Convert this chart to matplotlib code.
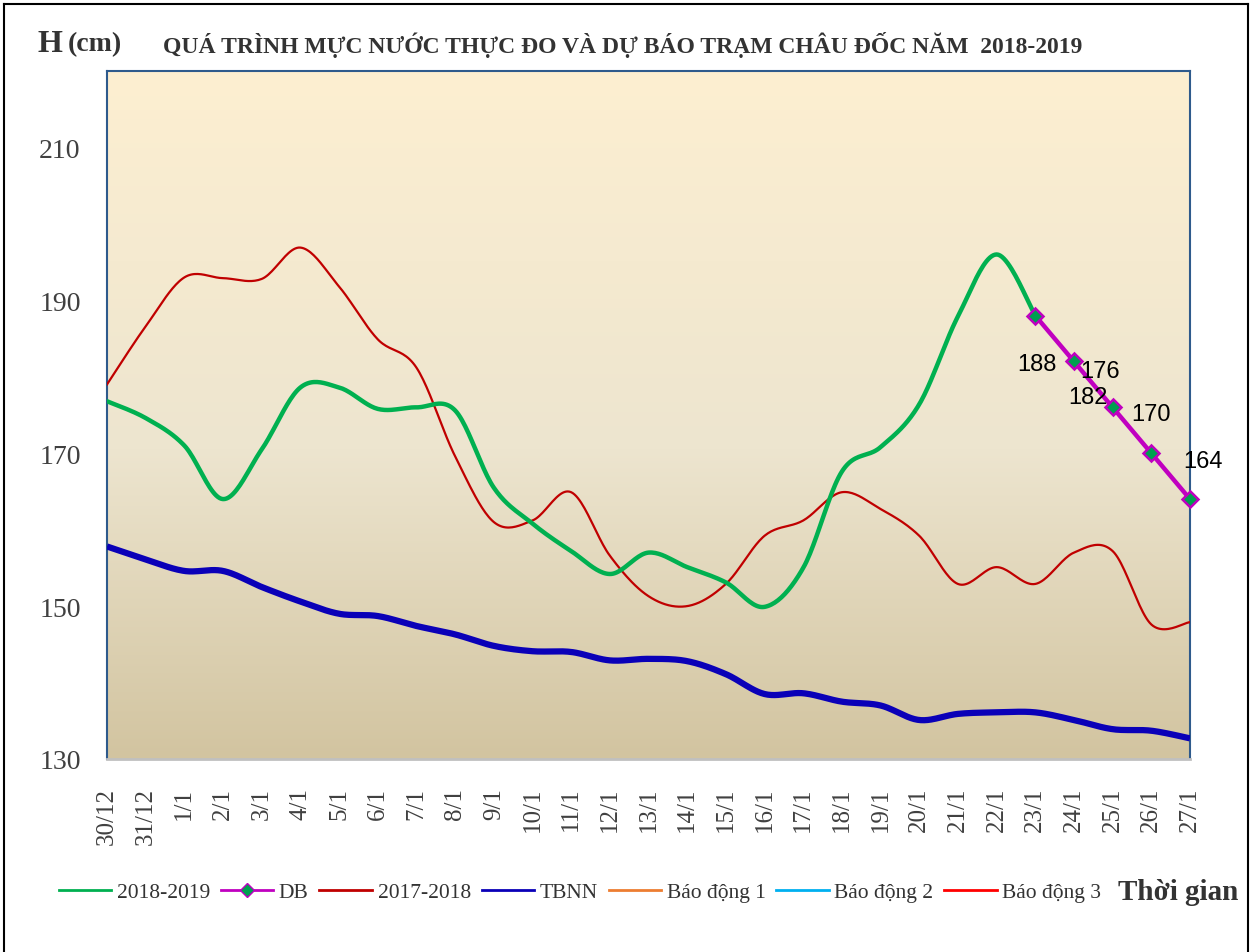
import numpy as np
import matplotlib
matplotlib.use("Agg")
import matplotlib.pyplot as plt
from matplotlib.lines import Line2D
from matplotlib.colors import LinearSegmentedColormap

plt.rcParams['font.family'] = ['Liberation Serif', 'DejaVu Serif']

# ---- data ----
dates = ['30/12', '31/12', '1/1', '2/1', '3/1', '4/1', '5/1', '6/1', '7/1', '8/1',
         '9/1', '10/1', '11/1', '12/1', '13/1', '14/1', '15/1', '16/1', '17/1', '18/1',
         '19/1', '20/1', '21/1', '22/1', '23/1', '24/1', '25/1', '26/1', '27/1']

# measured 2018-2019 (30/12 .. 23/1)
h_2019 = [176.8, 174.6, 171.0, 164.0, 170.5, 178.6, 178.6, 175.8, 176.0, 175.6,
          165.5, 160.8, 157.2, 154.2, 157.0, 155.1, 153.1, 149.9, 155.0, 167.6,
          170.8, 176.4, 187.9, 196.0, 188.0]

# forecast (23/1 .. 27/1)
db_dates = ['23/1', '24/1', '25/1', '26/1', '27/1']
h_db = [188, 182, 176, 170, 164]
db_label_offsets = [(2, -48), (14, -36), (-13, 36), (0, 39), (13, 38)]  # px

h_2018 = [179.0, 186.6, 193.0, 192.9, 192.8, 196.9, 191.8, 184.9, 181.2, 169.6,
          161.0, 161.2, 164.9, 156.6, 151.3, 150.0, 152.9, 159.2, 161.2, 164.9,
          162.7, 159.2, 152.9, 155.1, 152.9, 157.0, 157.2, 147.6, 147.9]

h_tbnn = [157.8, 156.1, 154.6, 154.6, 152.5, 150.6, 149.0, 148.7, 147.4, 146.3,
          144.8, 144.1, 144.0, 142.9, 143.1, 142.8, 141.1, 138.5, 138.6, 137.5,
          137.0, 135.1, 135.9, 136.1, 136.1, 135.1, 133.9, 133.7, 132.7]


def smooth(xs, ys, n=24):
    # excel-like smoothed line (catmull-rom as bezier)
    xs = np.asarray(xs, float)
    ys = np.asarray(ys, float)
    t = np.linspace(0, 1, n)[:, None]
    px, py = [], []
    for i in range(len(xs) - 1):
        i0 = max(i - 1, 0)
        i3 = min(i + 2, len(xs) - 1)
        pts = []
        for arr in (xs, ys):
            p0, p1, p2, p3 = arr[i0], arr[i], arr[i + 1], arr[i3]
            c1 = p1 + (p2 - p0) / 6
            c2 = p2 - (p3 - p1) / 6
            b = ((1 - t) ** 3 * p1 + 3 * (1 - t) ** 2 * t * c1
                 + 3 * (1 - t) * t ** 2 * c2 + t ** 3 * p2)
            pts.append(b[:, 0])
        px.append(pts[0])
        py.append(pts[1])
    return np.concatenate(px), np.concatenate(py)


W, H = 1256, 953
fig = plt.figure(figsize=(W / 100, H / 100), dpi=100)
ax = fig.add_axes([107 / W, 1 - 760 / H, (1190 - 107) / W, (760 - 72) / H])

x_all = np.arange(len(dates))
x_db = [dates.index(d) for d in db_dates]

# gradient background
cmap = LinearSegmentedColormap.from_list(
    'bg', [(0, '#D2C4A0'), (0.45, '#EDE5CF'), (1, '#FDEFD1')])
grad = np.linspace(0, 1, 256)[:, None]
ax.imshow(grad, extent=[0, len(dates) - 1, 130, 220], origin='lower',
          aspect='auto', cmap=cmap, zorder=0)

sx, sy = smooth(x_all, h_tbnn)
ax.plot(sx, sy, color='#0A00B8', lw=4.5, zorder=3, solid_capstyle='butt')
sx, sy = smooth(x_all, h_2018)
ax.plot(sx, sy, color='#C00000', lw=1.6, zorder=4)
sx, sy = smooth(x_all[:len(h_2019)], h_2019)
ax.plot(sx, sy, color='#00B050', lw=3.2, zorder=5)
ax.plot(x_db, h_db, color='#C000C0', lw=3.2, marker='D', ms=8,
        mfc='#00A050', mec='#C000C0', mew=1.8, zorder=6, clip_on=False)

for xd, v, (dx, dy) in zip(x_db, h_db, db_label_offsets):
    ax.annotate(str(v), (xd, v), xytext=(dx * 0.72, dy * 0.72),
                textcoords='offset points', ha='center', va='center',
                fontsize=17, family='Liberation Sans', color='black', zorder=7)

ax.set_xlim(0, len(dates) - 1)
ax.set_ylim(130, 220)
ax.set_yticks([130, 150, 170, 190, 210])
ax.set_xticks(x_all)
ax.set_xticklabels(dates, rotation=90, fontsize=18, color='#404040')
ax.tick_params(axis='y', labelsize=20, labelcolor='#404040', length=0, pad=19)
ax.tick_params(axis='x', length=0, pad=20)

for s in ('left', 'top', 'right'):
    ax.spines[s].set_color('#2E5A8C')
    ax.spines[s].set_linewidth(1.5)
ax.spines['bottom'].set_color('#C0C0C0')
ax.spines['bottom'].set_linewidth(2)

fig.text(38 / W, 1 - 45 / H, 'H', fontsize=23, fontweight='bold',
         color='#333333', va='center')
fig.text(68 / W, 1 - 45 / H, '(cm)', fontsize=20, fontweight='bold',
         color='#333333', va='center')
fig.text(163 / W, 1 - 45 / H,
         'QUÁ TRÌNH MỰC NƯỚC THỰC ĐO VÀ DỰ BÁO TRẠM CHÂU ĐỐC NĂM  2018-2019',
         fontsize=17, fontweight='bold', color='#333333', va='center')

handles = [
    Line2D([], [], color='#00B050', lw=2),
    Line2D([], [], color='#C000C0', lw=2, marker='D', ms=7, mfc='#00A050', mec='#C000C0'),
    Line2D([], [], color='#C00000', lw=2),
    Line2D([], [], color='#0A00B8', lw=2),
    Line2D([], [], color='#ED7D31', lw=2),
    Line2D([], [], color='#00B0F0', lw=2),
    Line2D([], [], color='#FF0000', lw=2),
]
labels = ['2018-2019', 'DB', '2017-2018', 'TBNN', 'Báo động 1', 'Báo động 2', 'Báo động 3']
leg = fig.legend(handles, labels, loc='center left', bbox_to_anchor=(50 / W, 1 - 893 / H),
                 ncol=7, frameon=False, fontsize=15.5, handlelength=2.45,
                 handletextpad=0.25, columnspacing=0.5, borderaxespad=0)
for t in leg.get_texts():
    t.set_color('#333333')

fig.text(1118 / W, 1 - 893 / H, 'Thời gian', fontsize=21, fontweight='bold',
         color='#333333', va='center')

# outer frame
for xs_, ys_ in [((4 / W, 4 / W), (0, 1 - 5 / H)),
                 ((4 / W, 1248 / W), (1 - 5 / H, 1 - 5 / H)),
                 ((1248 / W, 1248 / W), (0, 1 - 5 / H))]:
    fig.add_artist(Line2D(xs_, ys_, color='black', lw=1.5))

fig.savefig('out.png', dpi=100)
